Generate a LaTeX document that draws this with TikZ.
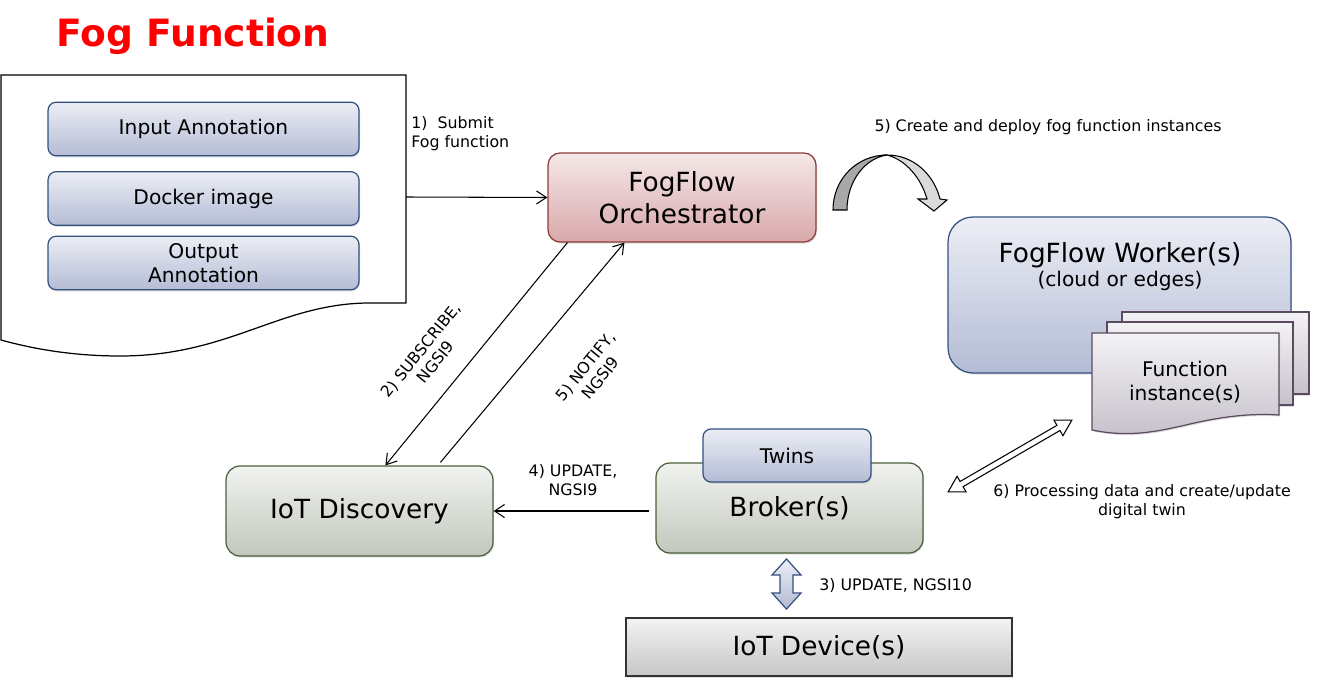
\documentclass[tikz,border=0pt]{standalone}
\usepackage{fontspec}
\setmainfont{DejaVu Sans}
\usepackage{tikz}
\usetikzlibrary{arrows.meta,calc,shadows}

\definecolor{fogred}{HTML}{FF0000}
\definecolor{bluetop}{HTML}{ECEEF5}
\definecolor{bluebot}{HTML}{B4BCD5}
\definecolor{bluedraw}{HTML}{34507F}
\definecolor{redtop}{HTML}{F5E8E8}
\definecolor{redbot}{HTML}{D8A8AA}
\definecolor{reddraw}{HTML}{8E3A3C}
\definecolor{greentop}{HTML}{F1F2EF}
\definecolor{greenbot}{HTML}{C2C8BD}
\definecolor{greendraw}{HTML}{4B5F3A}
\definecolor{fntop}{HTML}{F3F2F5}
\definecolor{fnbot}{HTML}{C5C1CA}
\definecolor{fndraw}{HTML}{5B4B5F}
\definecolor{devtop}{HTML}{F3F3F3}
\definecolor{devbot}{HTML}{C6C6C6}
\definecolor{curvedark}{HTML}{A8A8A8}
\definecolor{curvelight}{HTML}{DADADA}

\newcommand{\txtbig}{\fontsize{15}{18}\selectfont}
\newcommand{\txtbox}{\fontsize{11.5}{13.8}\selectfont}
\newcommand{\txtlab}{\fontsize{9}{10.8}\selectfont}

\tikzstyle{arrow} = [-{Straight Barb[length=2mm,width=2.6mm]},line width=0.6pt]
\tikzstyle{box} = [draw,line width=0.7pt,rounded corners=0.16cm,align=center,inner sep=0pt,
  drop shadow={opacity=0.25,shadow xshift=0.6pt,shadow yshift=-0.9pt}]
\tikzstyle{annot} = [box,draw=bluedraw,top color=bluetop,bottom color=bluebot,
  minimum width=6.22cm,minimum height=1.07cm,font=\txtbox]
\tikzstyle{orchbox} = [box,rounded corners=0.24cm,draw=reddraw,top color=redtop,bottom color=redbot,
  minimum width=5.36cm,minimum height=1.78cm,font=\txtbig]
\tikzstyle{greenbox} = [box,rounded corners=0.28cm,draw=greendraw,top color=greentop,bottom color=greenbot,
  minimum width=5.34cm,minimum height=1.8cm,font=\txtbig]
\tikzstyle{fn} = [draw=fndraw,line width=0.7pt,top color=fntop,bottom color=fnbot,
  drop shadow={opacity=0.25,shadow xshift=0.6pt,shadow yshift=-0.9pt}]
\tikzstyle{lab} = [font=\txtlab,align=center,inner sep=0pt]

\begin{document}
\begin{tikzpicture}[x=0.02cm,y=-0.02cm]
          \useasboundingbox (0,0) rectangle (1331,686);

          % fog function description
          \node[font=\fontsize{21.4}{25}\selectfont\bfseries,text=fogred] at (193,36) (title) {Fog Function};
          \draw[line width=0.7pt,fill=white] (1,75) -- (406,75) -- (406,303) -- (370,303)
            .. controls (280,303) and (230,356) .. (120,356)
            .. controls (70,356) and (30,348) .. (1,340) -- cycle;
          \coordinate (docR) at (406,197);
          \node[annot] at (203.5,129) (input) {Input Annotation};
          \node[annot] at (203.5,198.5) (docker) {Docker image};
          \node[annot] at (203.5,263) (output) {Output\\Annotation};

          % components
          \node[orchbox] at (682,197.5) (orch) {FogFlow\\Orchestrator};
          \node[greenbox] at (359.5,511) (disc) {IoT Discovery};
          \node[greenbox] at (789.5,508) (broker) {Broker(s)};
          \node[annot,minimum width=3.36cm,minimum height=1.06cm] at (787,455.5) (twins) {Twins};
          \node[box,rounded corners=0pt,draw=black!80,top color=devtop,bottom color=devbot,
            minimum width=7.72cm,minimum height=1.16cm,font=\txtbig] at (819,647) (device) {IoT Device(s)};

          % worker with function instances
          \node[box,rounded corners=0.5cm,draw=bluedraw,top color=bluetop,bottom color=bluebot,
            minimum width=6.86cm,minimum height=3.12cm] at (1119.5,295) (worker) {};
          \node[font=\txtbig,anchor=base] at (1120,262) (workertitle) {FogFlow Worker(s)};
          \node[font=\txtbox,anchor=base] at (1120,286) (workersub) {(cloud or edges)};
          \draw[fn] (1122,312) rectangle (1309,394);
          \draw[fn] (1107,322) rectangle (1293,405);
          \draw[fn] (1092,333) -- (1279,333) -- (1279,415)
            .. controls (1250,413) and (1220,417) .. (1190,424)
            .. controls (1160,431) and (1130,438) .. (1092,430) -- cycle;
          \node[font=\txtbox,align=center] at (1185,382) (fntext) {Function\\instance(s)};

          % curved deploy arrow
          \draw[line width=0.6pt,fill=curvedark] (833,210) .. controls (833,178) and (858,155) .. (887,155)
            .. controls (866,158) and (847,180) .. (847,210) -- cycle;
          \draw[line width=0.6pt,fill=curvelight] (887,155) .. controls (914,155) and (934,175) .. (940,199)
            -- (947,200) -- (934,211) -- (918,199) -- (927,199)
            .. controls (921,178) and (906,160) .. (887,155) -- cycle;

          % update arrow broker <-> devices
          \draw[line width=0.7pt,draw=bluedraw,top color=bluetop,bottom color=bluebot]
            (786.5,559) -- (801,575) -- (793,575) -- (793,593) -- (801,593) -- (786.5,609)
            -- (772,593) -- (780,593) -- (780,575) -- (772,575) -- cycle;

          % processing arrow broker <-> instances
          \begin{scope}[shift={(1010,456)},rotate=30.1]
            \draw[line width=0.6pt,fill=white] (-71.5,0) -- (-56,9) -- (-56,3) -- (56,3) -- (56,9)
              -- (71.5,0) -- (56,-9) -- (56,-3) -- (-56,-3) -- (-56,-9) -- cycle;
          \end{scope}

          % messages
          \draw[arrow] (docR) -- (orch.west);
          \draw[arrow] ($(orch.south west)+(20,0)$) -- ($(disc.north west)+(160,0)$);
          \draw[arrow] ($(disc.north west)+(215,-3)$) -- ($(orch.south west)+(77,0)$);
          \draw[arrow] ($(broker.west)+(-6,3)$) -- (disc.east);

          \node[lab,align=left,anchor=west] at (411,134) (l1) {1)\ \ Submit\\Fog function};
          \node[lab] at (1048,127) (l5a) {5) Create and deploy fog function instances};
          \node[lab,rotate=51] at (428,356) (l2) {2) SUBSCRIBE,\\NGSI9};
          \node[lab,rotate=51] at (593,372) (l5b) {5) NOTIFY,\\NGSI9};
          \node[lab] at (573,480) (l4) {4) UPDATE,\\NGSI9};
          \node[lab,anchor=west] at (819,586) (l3) {3) UPDATE, NGSI10};
          \node[lab] at (1142,502) (l6) {6) Processing data and create/update\\digital twin};
        \end{tikzpicture}
\end{document}
